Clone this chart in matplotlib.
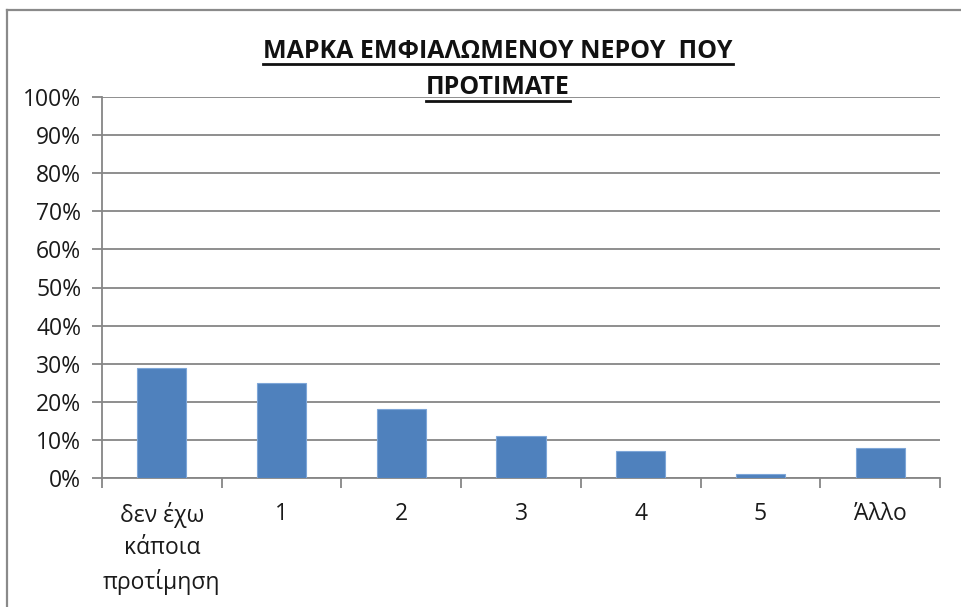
import matplotlib
matplotlib.use("Agg")
import matplotlib.pyplot as plt
from matplotlib.lines import Line2D
import numpy as np

categories = ["δεν έχω\nκάποια\nπροτίμηση", "1", "2", "3", "4", "5", "Άλλο"]
values = [29, 25, 18, 11, 7, 1, 8]
yticks = [0, 10, 20, 30, 40, 50, 60, 70, 80, 90, 100]
title_lines = ["ΜΑΡΚΑ ΕΜΦΙΑΛΩΜΕΝΟΥ ΝΕΡΟΥ  ΠΟΥ", "ΠΡΟΤΙΜΑΤΕ"]

plt.rcParams['font.family'] = ['Open Sans', 'DejaVu Sans']

W, H = 962, 607
fig = plt.figure(figsize=(W / 100, H / 100), dpi=100)
fig.patch.set_facecolor("white")

ax = fig.add_axes([102 / W, 1 - 478 / H, (940 - 102) / W, (478 - 97) / H])
x = np.arange(len(categories))
ax.bar(x, values, width=0.41, color="#4F81BD", edgecolor="#7EA6D8", linewidth=0.8, zorder=3)

ax.set_xlim(-0.5, len(categories) - 0.5)
ax.set_ylim(0, 100)
ax.set_yticks(yticks)
ax.set_yticklabels([f"{v}%" for v in yticks], fontsize=16.5, color="#1a1a1a")
ax.yaxis.grid(True, color="#868686", linewidth=1.3, zorder=0)
ax.set_axisbelow(True)

ax.set_xticks(x)
ax.set_xticklabels(categories, fontsize=16.5, color="#1a1a1a", linespacing=1.45, va="top")
ax.set_xticks(np.arange(len(categories) + 1) - 0.5, minor=True)
ax.tick_params(axis="x", which="major", length=0, pad=17)
ax.tick_params(axis="x", which="minor", length=7, width=1.3, color="#868686")
ax.tick_params(axis="y", length=7, width=1.3, color="#868686", pad=8)

for side in ["top", "right"]:
    ax.spines[side].set_visible(False)
for side in ["left", "bottom"]:
    ax.spines[side].set_color("#868686")
    ax.spines[side].set_linewidth(1.3)

# title lines with underline
t_y = [1 - 51 / H, 1 - 88 / H]
texts = []
for line, ty in zip(title_lines, t_y):
    t = fig.text(498 / W, ty, line, ha="center", va="center", fontsize=18,
                 fontweight="bold", color="#111111")
    texts.append(t)

fig.canvas.draw()
r = fig.canvas.get_renderer()
for t, uy in zip(texts, [64, 101]):
    bb = t.get_window_extent(renderer=r)
    fig.add_artist(Line2D([bb.x0 / W, bb.x1 / W], [1 - uy / H, 1 - uy / H],
                          transform=fig.transFigure, color="#111111", linewidth=2))

# outer frame of the chart area
fig.add_artist(Line2D([7 / W, 7 / W], [0, 1 - 10 / H], transform=fig.transFigure,
                      color="#8A8A8A", linewidth=1.6))
fig.add_artist(Line2D([7 / W, 1], [1 - 10 / H, 1 - 10 / H], transform=fig.transFigure,
                      color="#8A8A8A", linewidth=1.6))

fig.savefig("out.png", dpi=100)
